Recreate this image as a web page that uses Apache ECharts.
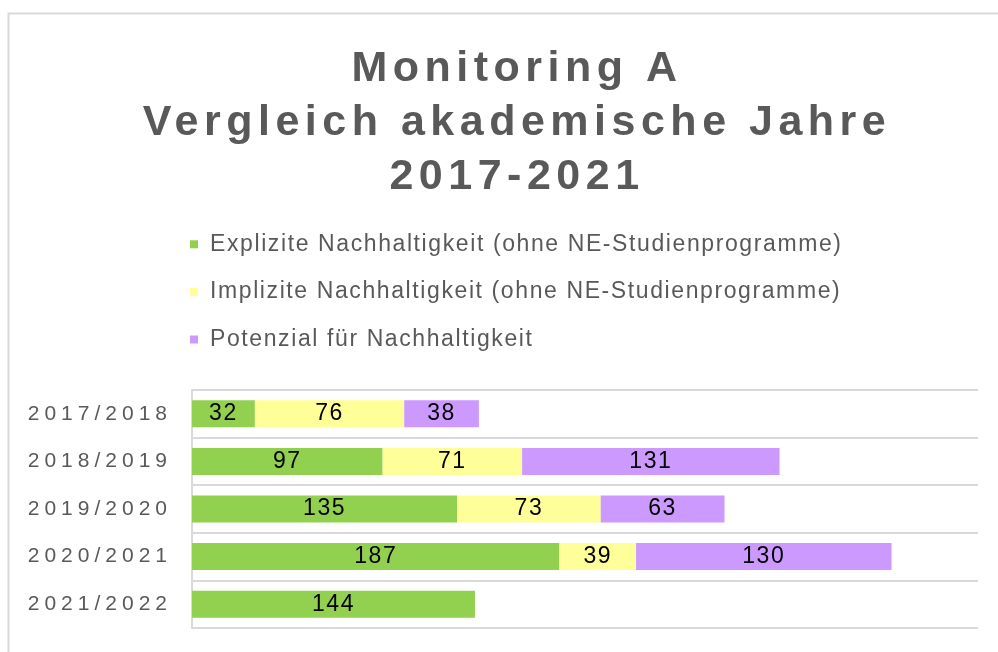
<!DOCTYPE html>
<html>
<head>
<meta charset="utf-8">
<script src="https://cdn.jsdelivr.net/npm/echarts@6/dist/echarts.min.js"></script>
<style>
  html, body { margin: 0; padding: 0; background: #fff; }
  #chart { width: 998px; height: 652px; }
</style>
</head>
<body>
<div id="chart"></div>
<script>
// academic years, top to bottom
const years = ['2017/2018', '2018/2019', '2019/2020', '2020/2021', '2021/2022']
const explizit = [32, 97, 135, 187, 144]
const implizit = [76, 71, 73, 39, null]
const potenzial = [38, 131, 63, 130, null]

const seriesNames = [
  'Explizite Nachhaltigkeit (ohne NE-Studienprogramme)',
  'Implizite Nachhaltigkeit (ohne NE-Studienprogramme)',
  'Potenzial für Nachhaltigkeit'
]
const colors = ['#92d050', '#ffff99', '#cc99ff']

// the original uses spaced-out lettering, keyed here by font size
const spacingBySize = { 43: '5.5px', 21: '5px', 23: '1.6px' }
function applySpacing(ctx) {
  const m = /(\d+)px/.exec(ctx.font)
  ctx.letterSpacing = (m && spacingBySize[m[1]]) || '0px'
}
const proto = CanvasRenderingContext2D.prototype
const origFill = proto.fillText
const origMeasure = proto.measureText
proto.fillText = function () { applySpacing(this); return origFill.apply(this, arguments) }
proto.measureText = function () { applySpacing(this); return origMeasure.apply(this, arguments) }

const font = 'Liberation Sans, Arial, sans-serif'
const chart = echarts.init(document.getElementById('chart'))

function barSeries(name, data, color) {
  return {
    name: name,
    type: 'bar',
    stack: 'total',
    barWidth: 27,
    data: data,
    itemStyle: { color: color },
    label: {
      show: true,
      position: 'inside',
      color: '#000',
      fontSize: 23,
      fontFamily: font
    }
  }
}

const option = {
  animation: false,
  backgroundColor: '#fff',
  graphic: [
    {
      type: 'rect',
      left: 6,
      top: 11,
      shape: { width: 1010, height: 700 },
      style: { fill: 'none', stroke: '#d9d9d9', lineWidth: 2 }
    }
  ],
  title: {
    text: 'Monitoring A\nVergleich akademische Jahre\n2017-2021',
    left: 512,
    textAlign: 'center',
    top: 37,
    textStyle: {
      color: '#595959',
      fontSize: 43,
      fontWeight: 'bold',
      lineHeight: 54,
      fontFamily: font
    }
  },
  legend: {
    orient: 'vertical',
    left: 185,
    top: 227,
    itemGap: 23,
    itemWidth: 8,
    itemHeight: 8,
    icon: 'rect',
    data: seriesNames,
    textStyle: {
      color: '#595959',
      fontSize: 23,
      padding: [0, 0, 0, 7],
      fontFamily: font
    }
  },
  grid: {
    left: 192,
    right: 20,
    top: 390,
    bottom: 24,
    containLabel: false
  },
  xAxis: {
    type: 'value',
    min: 0,
    max: 400,
    show: false
  },
  yAxis: {
    type: 'category',
    inverse: true,
    data: years,
    axisLine: { show: true, lineStyle: { color: '#d9d9d9', width: 2 } },
    axisTick: { show: false },
    axisLabel: {
      color: '#595959',
      fontSize: 21,
      margin: 20,
      fontFamily: font
    },
    splitLine: { show: true, lineStyle: { color: '#d9d9d9', width: 2 } }
  },
  series: [
    barSeries(seriesNames[0], explizit, colors[0]),
    barSeries(seriesNames[1], implizit, colors[1]),
    barSeries(seriesNames[2], potenzial, colors[2])
  ]
}

chart.setOption(option)
</script>
</body>
</html>
